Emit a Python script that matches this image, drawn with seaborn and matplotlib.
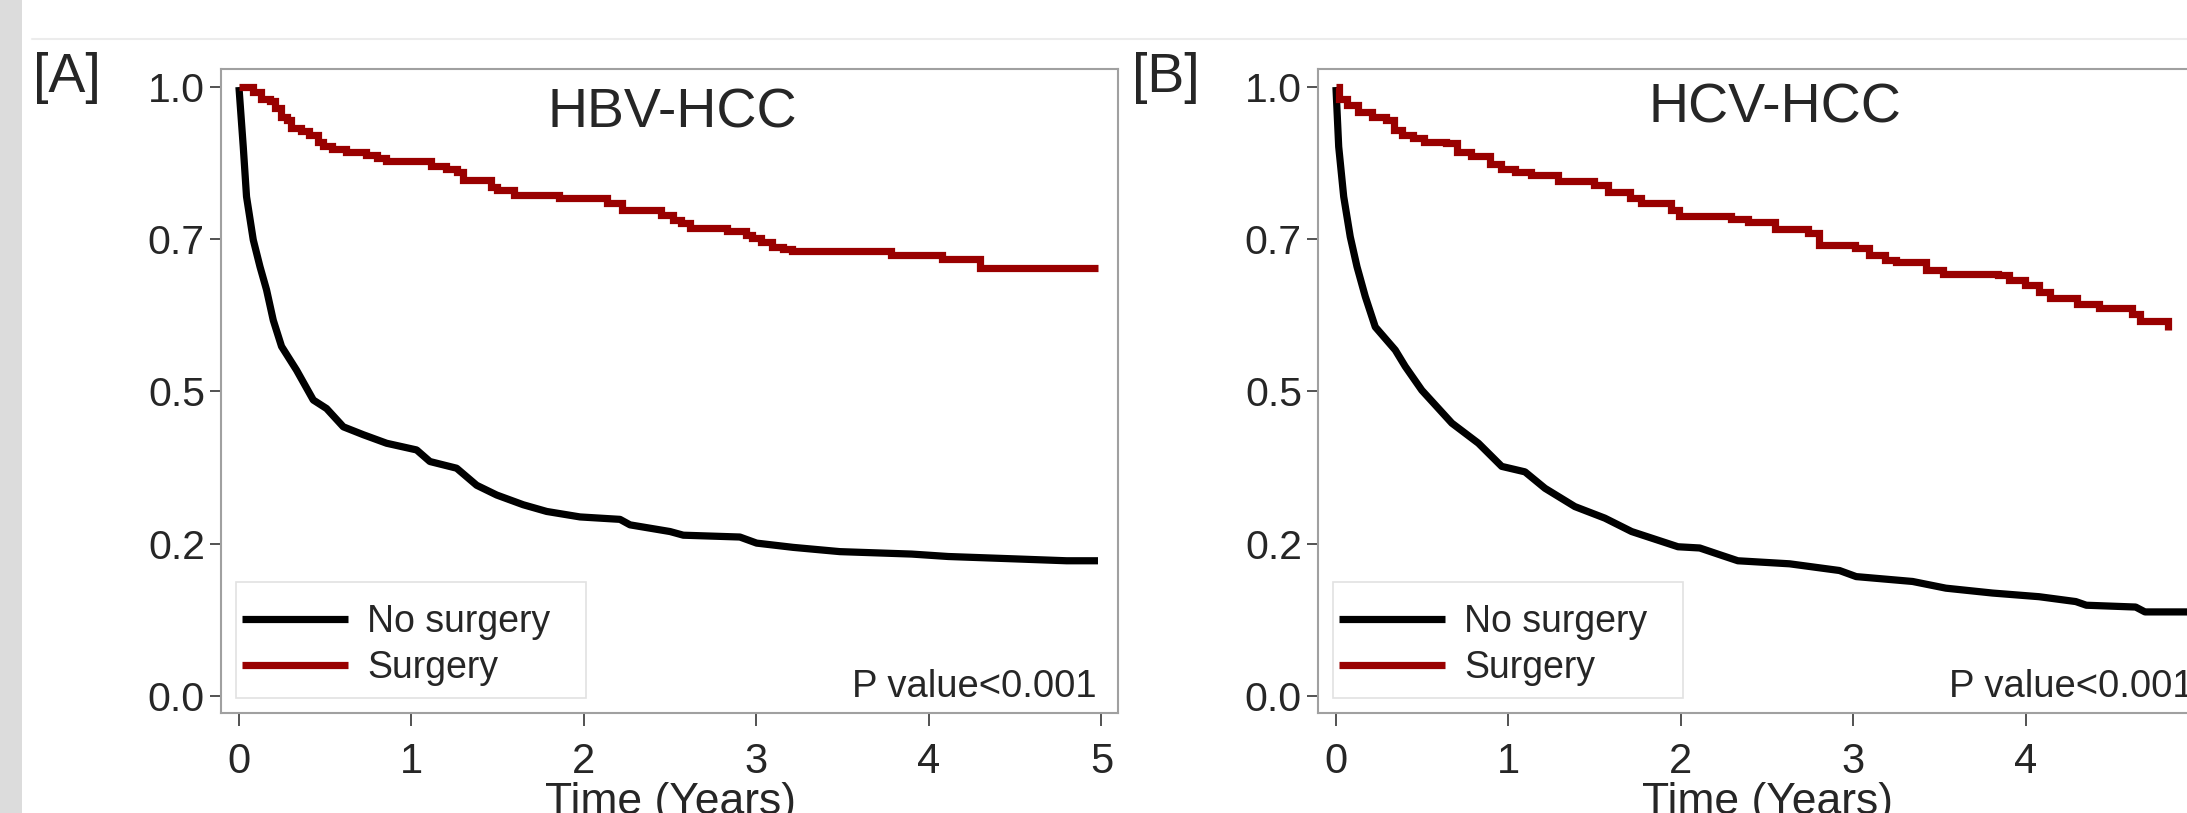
import numpy as np
import matplotlib
matplotlib.use("Agg")
import matplotlib.pyplot as plt
import seaborn as sns
from matplotlib.patches import Rectangle
from matplotlib.lines import Line2D

# ---------------- data ----------------
panel_letters = ["[A]", "[B]"]
panel_titles = ["HBV-HCC", "HCV-HCC"]
group_labels = ["No surgery", "Surgery"]
p_text = "P value<0.001"
x_label = "Time (Years)"
x_ticks = [0, 1, 2, 3, 4, 5]
y_ticks = [0.0, 0.25, 0.5, 0.75, 1.0]
y_tick_labels = ["0.0", "0.2", "0.5", "0.7", "1.0"]

# Panel A, no surgery
a_nosurg_t = [0, 0.025, 0.044, 0.083, 0.122, 0.160, 0.199, 0.247, 0.334, 0.431, 0.508,
              0.605, 0.721, 0.856, 1.030, 1.107, 1.262, 1.378, 1.494, 1.648, 1.784,
              1.977, 2.209, 2.267, 2.499, 2.576, 2.904, 3.001, 3.213, 3.484, 3.900,
              4.112, 4.508, 4.798, 4.98]
a_nosurg_s = [1.0, 0.902, 0.820, 0.749, 0.705, 0.667, 0.617, 0.574, 0.535, 0.486, 0.472,
              0.442, 0.429, 0.415, 0.404, 0.385, 0.374, 0.346, 0.330, 0.314, 0.303,
              0.294, 0.290, 0.281, 0.270, 0.264, 0.261, 0.251, 0.244, 0.237, 0.233,
              0.229, 0.225, 0.222, 0.222]
# Panel A, surgery
a_surg_t = [0, 0.079, 0.129, 0.178, 0.211, 0.244, 0.277, 0.303, 0.359, 0.409, 0.458,
            0.490, 0.540, 0.622, 0.738, 0.803, 0.853, 1.115, 1.198, 1.264, 1.297,
            1.461, 1.494, 1.593, 1.856, 2.136, 2.218, 2.448, 2.514, 2.564, 2.613,
            2.827, 2.942, 2.975, 3.024, 3.090, 3.156, 3.205, 3.781, 4.077, 4.297, 4.98]
a_surg_s = [1.0, 0.992, 0.981, 0.977, 0.965, 0.951, 0.946, 0.932, 0.928, 0.921, 0.910,
            0.903, 0.899, 0.893, 0.888, 0.883, 0.878, 0.871, 0.865, 0.860, 0.847,
            0.836, 0.831, 0.823, 0.817, 0.809, 0.798, 0.790, 0.782, 0.776, 0.768,
            0.763, 0.757, 0.752, 0.746, 0.738, 0.734, 0.730, 0.724, 0.718, 0.702, 0.702]

# Panel B, no surgery
b_nosurg_t = [0, 0.016, 0.045, 0.083, 0.122, 0.170, 0.228, 0.344, 0.402, 0.498, 0.672,
              0.826, 0.961, 1.096, 1.212, 1.385, 1.559, 1.714, 1.983, 2.109, 2.224,
              2.330, 2.630, 2.919, 3.016, 3.343, 3.536, 3.806, 4.076, 4.289, 4.350,
              4.636, 4.690, 4.98]
b_nosurg_s = [1.0, 0.902, 0.820, 0.754, 0.705, 0.656, 0.606, 0.568, 0.541, 0.502, 0.448,
              0.415, 0.377, 0.368, 0.341, 0.311, 0.292, 0.270, 0.245, 0.243, 0.232,
              0.222, 0.217, 0.206, 0.196, 0.188, 0.177, 0.169, 0.163, 0.155, 0.149,
              0.146, 0.138, 0.138]
# Panel B, surgery
b_surg_t = [0, 0.018, 0.066, 0.130, 0.209, 0.289, 0.336, 0.384, 0.448, 0.512, 0.639,
            0.702, 0.782, 0.894, 0.957, 1.036, 1.131, 1.290, 1.498, 1.577, 1.704,
            1.767, 1.943, 1.991, 2.293, 2.388, 2.547, 2.738, 2.802, 3.009, 3.089,
            3.183, 3.247, 3.422, 3.518, 3.836, 3.899, 3.995, 4.075, 4.138, 4.296,
            4.424, 4.615, 4.663, 4.822]
b_surg_s = [1.0, 0.981, 0.970, 0.959, 0.951, 0.946, 0.929, 0.921, 0.917, 0.910, 0.908,
            0.893, 0.887, 0.873, 0.866, 0.861, 0.855, 0.845, 0.839, 0.828, 0.817,
            0.809, 0.798, 0.789, 0.784, 0.778, 0.767, 0.760, 0.741, 0.735, 0.724,
            0.716, 0.712, 0.700, 0.693, 0.691, 0.683, 0.675, 0.664, 0.653, 0.643,
            0.637, 0.627, 0.615, 0.601]

# ---------------- style ----------------
sns.set_style("white")
plt.rcParams["font.family"] = ["Liberation Sans", "DejaVu Sans"]

RED = "#990000"
FRAME = "#a0a0a0"
LW = 5.2
W, H = 2187, 813

fig = plt.figure(figsize=(W / 100, H / 100), dpi=100)
fig.patch.set_facecolor("white")

# left grey strip and top separator line (page elements)
fig.add_artist(Rectangle((0, 0), 22 / W, 1, transform=fig.transFigure,
                         facecolor="#dcdcdc", edgecolor="none", zorder=0))
fig.add_artist(Line2D([32 / W, 1], [1 - 39 / H, 1 - 39 / H], transform=fig.transFigure,
                      color="#ececec", lw=1.5))

ax_w = 897 / W
ax_h = 644 / H
ax_b = 100 / H
axA = fig.add_axes([221 / W, ax_b, ax_w, ax_h])
axB = fig.add_axes([1318 / W, ax_b, ax_w, ax_h])

panels = [
    (axA, a_nosurg_t, a_nosurg_s, a_surg_t, a_surg_s, (0.503, 0.909), 33 / W),
    (axB, b_nosurg_t, b_nosurg_s, b_surg_t, b_surg_s, (0.509, 0.917), 1132 / W),
]

for i, (ax, tn, sn, ts, ss, tpos, lx) in enumerate(panels):
    sns.lineplot(x=tn, y=sn, ax=ax, color="black", lw=LW, estimator=None,
                 sort=False, label=group_labels[0], solid_joinstyle="round",
                 solid_capstyle="butt")
    sns.lineplot(x=ts, y=ss, ax=ax, color=RED, lw=LW, estimator=None,
                 sort=False, drawstyle="steps-post", label=group_labels[1],
                 solid_joinstyle="miter", solid_capstyle="butt")

    ax.set_xlim(-0.104, 5.096)
    ax.set_ylim(-0.028, 1.0296)
    ax.set_xticks(x_ticks)
    ax.set_xticklabels([str(v) for v in x_ticks])
    ax.set_yticks(y_ticks)
    ax.set_yticklabels(y_tick_labels)
    ax.tick_params(axis="x", direction="out", length=9.4, width=1.3, color="#444444",
                   labelsize=30, pad=11.5, bottom=True)
    ax.tick_params(axis="y", direction="out", length=8, width=1.3, color="#444444",
                   labelsize=29.5, pad=3.6, left=True)
    for sp in ax.spines.values():
        sp.set_color(FRAME)
        sp.set_linewidth(1.5)
        sp.set_visible(True)
    ax.set_facecolor("white")
    ax.set_ylabel("")
    ax.set_xlabel(x_label, fontsize=32)
    ax.xaxis.set_label_coords(0.5006, -0.107)

    ax.text(tpos[0], tpos[1], panel_titles[i], transform=ax.transAxes,
            ha="center", va="baseline", fontsize=40)
    ax.text(0.9766, 0.0248, p_text, transform=ax.transAxes,
            ha="right", va="baseline", fontsize=27.5)

    # legend frame
    ax.add_patch(Rectangle((0.0167, 0.0233), 0.3902, 0.1801, transform=ax.transAxes,
                           facecolor="white", edgecolor="#e2e2e2", lw=1.2, zorder=1))
    handles, labels = ax.get_legend_handles_labels()
    leg = ax.legend(handles, labels, loc="center left", bbox_to_anchor=(0.0234, 0.1056),
                    frameon=False, fontsize=27, handlelength=2.83, handletextpad=0.5,
                    labelspacing=0.25, borderpad=0, borderaxespad=0)
    leg.set_zorder(5)
    for ln in leg.get_lines():
        ln.set_linewidth(LW)

    fig.text(lx, 1 - 92 / H, panel_letters[i], fontsize=40, ha="left", va="baseline")

fig.savefig("out.png", dpi=100, facecolor="white")
